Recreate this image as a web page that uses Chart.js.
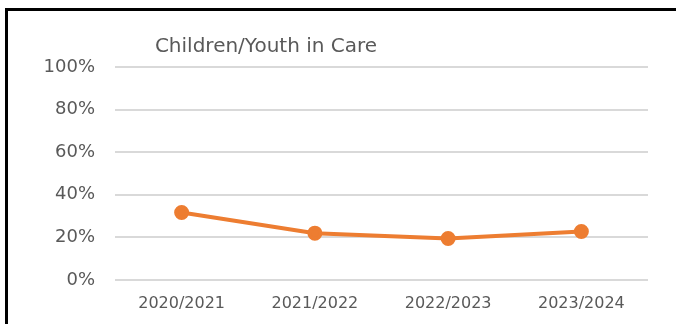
<!DOCTYPE html>
<html>
<head>
<meta charset="utf-8">
<script src="https://cdn.jsdelivr.net/npm/chart.js@4.4.1/dist/chart.umd.min.js"></script>
<style>
    body { margin: 0; background: #fff; overflow: hidden; }
    #wrap { position: relative; width: 676px; height: 324px; }
    #frame { position: absolute; left: 5px; top: 8px; width: 700px; height: 400px; border: 3px solid #000; box-sizing: border-box; pointer-events: none; }
    canvas { position: absolute; left: 0; top: 0; }
</style>
</head>
<body>
<div id="wrap">
    <canvas id="linechart-care" width="676" height="324"></canvas>
    <div id="frame"></div>
</div>
<script>
let years = ['2020/2021', '2021/2022', '2022/2023', '2023/2024'];
let careValues = [31.7, 22, 19.5, 22.8];
let chartTitle = 'Children/Youth in Care';

// title sits left of center in the original, so draw it by hand
let titlePlugin = {
    id: 'leftTitle',
    afterDraw: function (chart) {
        let ctx = chart.ctx;
        ctx.save();
        ctx.font = '20px "DejaVu Sans"';
        ctx.fillStyle = '#595959';
        ctx.textAlign = 'center';
        ctx.textBaseline = 'middle';
        ctx.fillText(chartTitle, 266, 47);
        ctx.restore();
    }
};

let context = document.getElementById('linechart-care').getContext('2d');
let dataforChart = {
    labels: years,
    datasets: [
        {
            label: chartTitle,
            data: careValues,
            borderColor: '#ED7D31',
            backgroundColor: '#ED7D31',
            borderWidth: 4,
            pointRadius: 5.5,
            pointHoverRadius: 5.5,
            fill: false,
            tension: 0
        }
    ]
};
let config = {
    type: 'line',
    data: dataforChart,
    options: {
        responsive: false,
        animation: false,
        layout: {
            padding: { top: 67, right: 28, bottom: 0, left: 0 }
        },
        scales: {
            x: {
                offset: true,
                grid: { display: false },
                border: { display: false },
                ticks: {
                    color: '#595959',
                    font: { family: 'DejaVu Sans', size: 16 },
                    padding: 6,
                    maxRotation: 0
                },
                afterFit: function (scale) { scale.height = 44; }
            },
            y: {
                min: 0,
                max: 100,
                grid: { color: '#d9d9d9', lineWidth: 2, drawTicks: false },
                border: { display: false },
                ticks: {
                    stepSize: 20,
                    color: '#595959',
                    font: { family: 'DejaVu Sans', size: 18 },
                    padding: 20,
                    callback: function (v) { return v + '%'; }
                },
                afterFit: function (scale) { scale.width = 115; }
            }
        },
        plugins: {
            legend: { display: false },
            title: { display: false },
            tooltip: { enabled: false }
        }
    },
    plugins: [titlePlugin]
};
let chart = new Chart(context, config);
</script>
</body>
</html>
